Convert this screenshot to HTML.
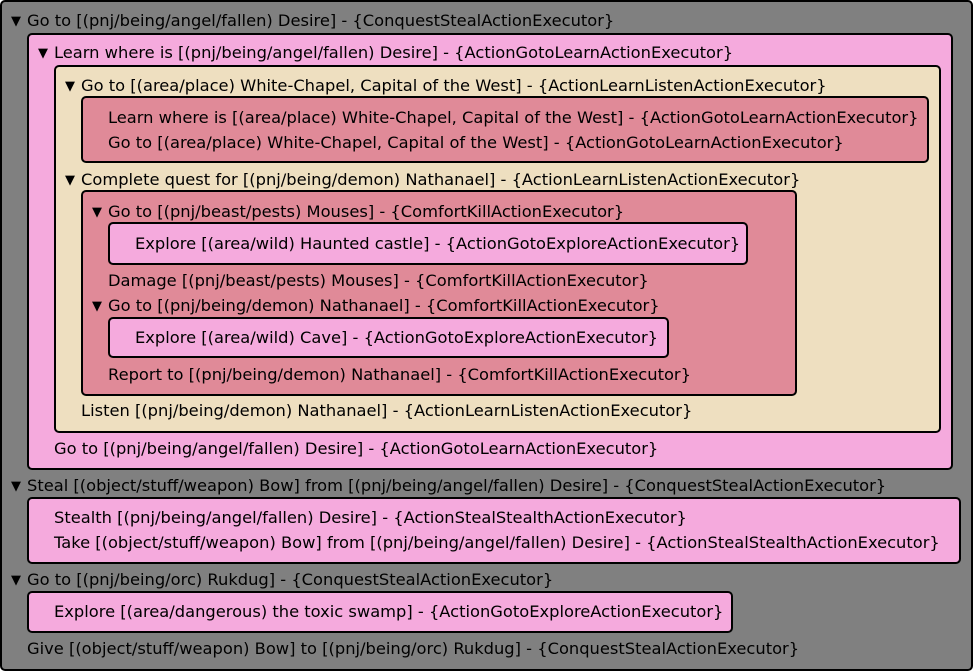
<!DOCTYPE html>
<html><head><style>
body{margin:0;width:973px;height:671px;overflow:hidden;background:#fff}
.b{position:absolute;border:2px solid #000;border-radius:5px;box-sizing:border-box}
.t{position:absolute;font-family:"DejaVu Sans","Liberation Sans",sans-serif;font-size:16.3px;line-height:20px;white-space:nowrap;color:#000}
.a{position:absolute;font-family:"DejaVu Sans",sans-serif;font-size:13px;line-height:20px;color:#000}
.g{background:#808080}.p{background:#f5aadd}.e{background:#eedfc0}.r{background:#e08a98}
</style></head><body>
<div class="b g" style="left:0;top:0;width:973px;height:671px"></div>
<div class="b p" style="left:27px;top:33px;width:926px;height:437px"></div>
<div class="b e" style="left:54px;top:65px;width:887px;height:368px"></div>
<div class="b r" style="left:81px;top:96px;width:848px;height:67px"></div>
<div class="b r" style="left:81px;top:190px;width:716px;height:206px"></div>
<div class="b p" style="left:108px;top:222px;width:640px;height:43px"></div>
<div class="b p" style="left:108px;top:317px;width:561px;height:41px"></div>
<div class="b p" style="left:27px;top:497px;width:934px;height:67px"></div>
<div class="b p" style="left:27px;top:591px;width:706px;height:42px"></div>

<div class="a" style="left:11px;top:12px">▼</div>
<div class="a" style="left:38px;top:44px">▼</div>
<div class="a" style="left:65px;top:77px">▼</div>
<div class="a" style="left:65px;top:171px">▼</div>
<div class="a" style="left:92px;top:203px">▼</div>
<div class="a" style="left:92px;top:297px">▼</div>
<div class="a" style="left:11px;top:477px">▼</div>
<div class="a" style="left:11px;top:571px">▼</div>

<div class="t" style="left:27px;top:11px">Go to [(pnj/being/angel/fallen) Desire] - {ConquestStealActionExecutor}</div>
<div class="t" style="left:54px;top:43px">Learn where is [(pnj/being/angel/fallen) Desire] - {ActionGotoLearnActionExecutor}</div>
<div class="t" style="left:81px;top:76px">Go to [(area/place) White-Chapel, Capital of the West] - {ActionLearnListenActionExecutor}</div>
<div class="t" style="left:108px;top:108px">Learn where is [(area/place) White-Chapel, Capital of the West] - {ActionGotoLearnActionExecutor}</div>
<div class="t" style="left:108px;top:133px">Go to [(area/place) White-Chapel, Capital of the West] - {ActionGotoLearnActionExecutor}</div>
<div class="t" style="left:81px;top:170px">Complete quest for [(pnj/being/demon) Nathanael] - {ActionLearnListenActionExecutor}</div>
<div class="t" style="left:108px;top:202px">Go to [(pnj/beast/pests) Mouses] - {ComfortKillActionExecutor}</div>
<div class="t" style="left:135px;top:234px">Explore [(area/wild) Haunted castle] - {ActionGotoExploreActionExecutor}</div>
<div class="t" style="left:108px;top:271px">Damage [(pnj/beast/pests) Mouses] - {ComfortKillActionExecutor}</div>
<div class="t" style="left:108px;top:296px">Go to [(pnj/being/demon) Nathanael] - {ComfortKillActionExecutor}</div>
<div class="t" style="left:135px;top:328px">Explore [(area/wild) Cave] - {ActionGotoExploreActionExecutor}</div>
<div class="t" style="left:108px;top:365px">Report to [(pnj/being/demon) Nathanael] - {ComfortKillActionExecutor}</div>
<div class="t" style="left:81px;top:401px">Listen [(pnj/being/demon) Nathanael] - {ActionLearnListenActionExecutor}</div>
<div class="t" style="left:54px;top:439px">Go to [(pnj/being/angel/fallen) Desire] - {ActionGotoLearnActionExecutor}</div>
<div class="t" style="left:27px;top:476px">Steal [(object/stuff/weapon) Bow] from [(pnj/being/angel/fallen) Desire] - {ConquestStealActionExecutor}</div>
<div class="t" style="left:54px;top:508px">Stealth [(pnj/being/angel/fallen) Desire] - {ActionStealStealthActionExecutor}</div>
<div class="t" style="left:54px;top:533px">Take [(object/stuff/weapon) Bow] from [(pnj/being/angel/fallen) Desire] - {ActionStealStealthActionExecutor}</div>
<div class="t" style="left:27px;top:570px">Go to [(pnj/being/orc) Rukdug] - {ConquestStealActionExecutor}</div>
<div class="t" style="left:54px;top:602px">Explore [(area/dangerous) the toxic swamp] - {ActionGotoExploreActionExecutor}</div>
<div class="t" style="left:27px;top:639px">Give [(object/stuff/weapon) Bow] to [(pnj/being/orc) Rukdug] - {ConquestStealActionExecutor}</div>
</body></html>
